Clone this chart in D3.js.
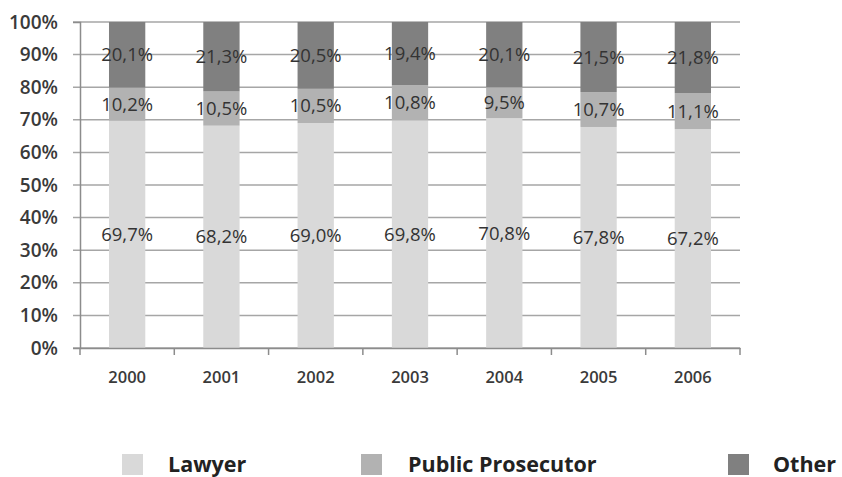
<!DOCTYPE html>
<html>
<head>
<meta charset="utf-8">
<script src="https://cdn.jsdelivr.net/npm/d3@7"></script>
<style>
  body { margin: 0; background: #fff; }
  svg { display: block; font-family: "Open Sans", sans-serif; }
</style>
</head>
<body>
<script>
// categories and series (percent shares per year)
var years = ["2000", "2001", "2002", "2003", "2004", "2005", "2006"];
var lawyer = [69.7, 68.2, 69.0, 69.8, 70.8, 67.8, 67.2];
var prosecutor = [10.2, 10.5, 10.5, 10.8, 9.5, 10.7, 11.1];
var other = [20.1, 21.3, 20.5, 19.4, 20.1, 21.5, 21.8];
var seriesNames = ["Lawyer", "Public Prosecutor", "Other"];
var yTicks = [0, 0.1, 0.2, 0.3, 0.4, 0.5, 0.6, 0.7, 0.8, 0.9, 1];

var w = 842, h = 477;
var colors = ["#d9d9d9", "#b2b2b2", "#808080"];

var rows = years.map(function (y, i) {
  return { year: y, "Lawyer": lawyer[i], "Public Prosecutor": prosecutor[i], "Other": other[i] };
});

var stack = d3.stack().keys(seriesNames).offset(d3.stackOffsetExpand);
var layers = stack(rows);

var x = d3.scaleBand().domain(years).range([80, 740]).paddingInner(0.615).paddingOuter(0.3075);
var y = d3.scaleLinear().domain([0, 1]).range([348, 22]);

var svg = d3.select("body").append("svg").attr("width", w).attr("height", h);

// gridlines (they start a bit left of the axis, like tick marks)
svg.append("g").selectAll("line")
  .data(yTicks)
  .enter().append("line")
  .attr("x1", 73).attr("x2", 740)
  .attr("y1", function (d) { return y(d); })
  .attr("y2", function (d) { return y(d); })
  .attr("stroke", "#a6a6a6")
  .attr("stroke-width", 1.5);

// bars
var g = svg.append("g");
g.selectAll("g.layer")
  .data(layers)
  .enter().append("g")
  .attr("class", "layer")
  .attr("fill", function (d, i) { return colors[i]; })
  .selectAll("rect")
  .data(function (d) { return d; })
  .enter().append("rect")
  .attr("x", function (d) { return x(d.data.year); })
  .attr("width", x.bandwidth())
  .attr("y", function (d) { return y(d[1]); })
  .attr("height", function (d) { return y(d[0]) - y(d[1]); });

// value labels
var raw = [lawyer, prosecutor, other];
layers.forEach(function (layer, li) {
  svg.append("g").selectAll("text")
    .data(layer)
    .enter().append("text")
    .attr("x", function (d) { return x(d.data.year) + x.bandwidth() / 2; })
    .attr("y", function (d) { return (y(d[0]) + y(d[1])) / 2; })
    .attr("dy", "0.35em")
    .attr("text-anchor", "middle")
    .attr("font-size", "18.5px")
    .attr("fill", "#333")
    .text(function (d, i) { return raw[li][i].toFixed(1).replace(".", ",") + "%"; });
});

// y axis
var yAxis = d3.axisLeft(y).tickValues(yTicks).tickFormat(d3.format(".0%")).tickSize(7).tickPadding(15);
var ya = svg.append("g").attr("transform", "translate(80,0)").call(yAxis);
ya.select(".domain").attr("stroke", "#8c8c8c").attr("stroke-width", 1.5);
ya.selectAll(".tick line").remove();
ya.selectAll("text")
  .attr("font-size", "19px")
  .attr("font-weight", 600)
  .attr("font-family", "Open Sans, sans-serif")
  .attr("fill", "#3a3a3a");

// x axis
var xa = svg.append("g").attr("transform", "translate(0," + y(0) + ")")
  .call(d3.axisBottom(x).tickSize(0).tickPadding(23));
xa.select(".domain").attr("stroke", "#8c8c8c").attr("stroke-width", 1.5);
xa.selectAll("text")
  .attr("font-size", "16.5px")
  .attr("font-weight", 600)
  .attr("font-family", "Open Sans, sans-serif")
  .attr("fill", "#3a3a3a");
// ticks at the category boundaries
xa.selectAll("line.bound")
  .data(d3.range(years.length + 1))
  .enter().append("line")
  .attr("class", "bound")
  .attr("x1", function (i) { return x.range()[0] + i * x.step(); })
  .attr("x2", function (i) { return x.range()[0] + i * x.step(); })
  .attr("y1", 0).attr("y2", 7)
  .attr("stroke", "#8c8c8c")
  .attr("stroke-width", 1.5);

// legend
var legendX = [122, 361, 728];
var leg = svg.append("g").selectAll("g")
  .data(seriesNames)
  .enter().append("g")
  .attr("transform", function (d, i) { return "translate(" + legendX[i] + ",454)"; });
leg.append("rect")
  .attr("width", 21).attr("height", 21)
  .attr("fill", function (d, i) { return colors[i]; });
leg.append("text")
  .attr("x", function (d, i) { return [46, 47, 45][i]; })
  .attr("y", 18)
  .attr("font-size", "21.5px")
  .attr("font-weight", 700)
  .attr("fill", "#222")
  .text(function (d) { return d; });
</script>
</body>
</html>
